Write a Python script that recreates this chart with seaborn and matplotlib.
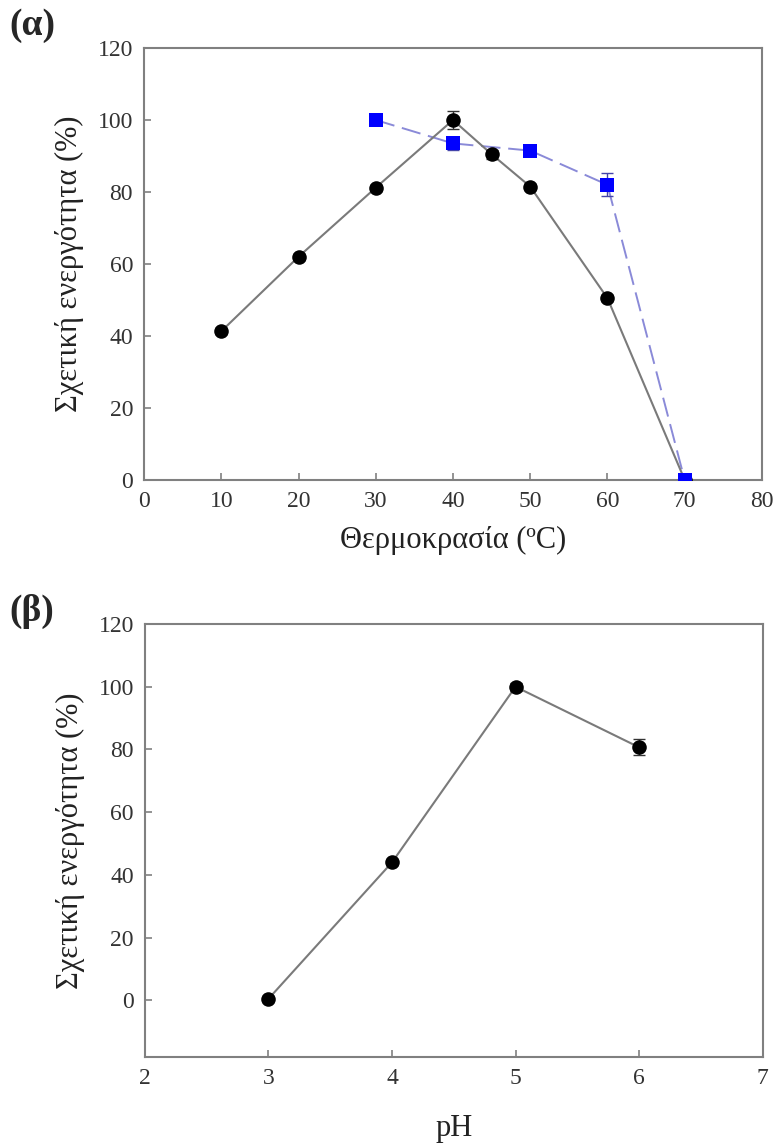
import matplotlib
matplotlib.use("Agg")
import matplotlib.pyplot as plt
import seaborn as sns
import numpy as np
import pandas as pd

sns.set_theme(style="white")
plt.rcParams['font.family'] = ['Liberation Serif', 'DejaVu Serif']
plt.rcParams['mathtext.fontset'] = 'stix'

# Panel (α): temperature
temp_act = [10, 20, 30, 40, 45, 50, 60, 70]
act_black = [41.3, 62.0, 81.2, 100.0, 90.5, 81.5, 50.5, 0.0]
err_black = [0.8, 0.8, 0.8, 2.5, 1.2, 0.8, 0.8, 0.5]

temp_stab = [30, 40, 50, 60, 70]
act_blue = [100.0, 93.5, 91.5, 82.0, 0.0]
err_blue = [0.8, 1.8, 0.8, 3.2, 0.5]

# Panel (β): pH
ph_vals = [3, 4, 5, 6]
act_ph = [0.5, 44.0, 100.0, 80.7]
err_ph = [0.5, 0.8, 1.2, 2.5]

xticks_a = [0, 10, 20, 30, 40, 50, 60, 70, 80]
yticks = [0, 20, 40, 60, 80, 100, 120]
xticks_b = [2, 3, 4, 5, 6, 7]

ylabel = "Σχετική ενεργότητα (%)"
xlabel_a = "Θερμοκρασία (ºC)"
xlabel_b = "pH"

fig = plt.figure(figsize=(7.75, 11.45), dpi=100)
ax1 = fig.add_axes([0.186, 0.581, 0.797, 0.377])
ax2 = fig.add_axes([0.187, 0.077, 0.797, 0.378])

spine_col = "#808080"
line_col = "#7a7a7a"
blue_line = "#8a8ad8"

def style(ax):
    for s in ax.spines.values():
        s.set_color(spine_col)
        s.set_linewidth(1.5)
    ax.tick_params(axis='both', direction='in', length=5, width=1.2,
                   color=spine_col, labelsize=17, labelcolor="#333333",
                   left=True, bottom=True, pad=8)
    ax.grid(False)

df_a = pd.DataFrame({"x": temp_act, "y": act_black})
df_s = pd.DataFrame({"x": temp_stab, "y": act_blue})
df_p = pd.DataFrame({"x": ph_vals, "y": act_ph})

# Panel α
sns.lineplot(data=df_s, x="x", y="y", ax=ax1, color=blue_line, lw=1.4,
             dashes=False, linestyle=(0, (10, 4)), zorder=2)
sns.lineplot(data=df_a, x="x", y="y", ax=ax1, color=line_col, lw=1.5, zorder=3)
ax1.errorbar(temp_act, act_black, yerr=err_black, fmt='none', ecolor='#333333',
             elinewidth=1, capsize=4, zorder=4)
ax1.errorbar(temp_stab, act_blue, yerr=err_blue, fmt='none', ecolor='#4444aa',
             elinewidth=1, capsize=4, zorder=4)
sns.scatterplot(data=df_a, x="x", y="y", ax=ax1, color="black", s=110,
                marker="o", edgecolor="black", linewidth=0, zorder=5)
sns.scatterplot(data=df_s, x="x", y="y", ax=ax1, color="#0000ff", s=100,
                marker="s", edgecolor="#0000ff", linewidth=0, zorder=6)
ax1.set_xlim(0, 80)
ax1.set_ylim(0, 120)
ax1.set_xticks(xticks_a)
ax1.set_yticks(yticks)
ax1.set_xlabel(xlabel_a, fontsize=22, labelpad=10, color="#222222")
ax1.set_ylabel(ylabel, fontsize=22, labelpad=10, color="#222222")
style(ax1)

# Panel β
sns.lineplot(data=df_p, x="x", y="y", ax=ax2, color=line_col, lw=1.5, zorder=3)
ax2.errorbar(ph_vals, act_ph, yerr=err_ph, fmt='none', ecolor='#333333',
             elinewidth=1, capsize=4, zorder=4)
sns.scatterplot(data=df_p, x="x", y="y", ax=ax2, color="black", s=110,
                marker="o", edgecolor="black", linewidth=0, zorder=5)
ax2.set_xlim(2, 7)
ax2.set_ylim(-18, 120)
ax2.set_xticks(xticks_b)
ax2.set_yticks(yticks)
ax2.set_xlabel(xlabel_b, fontsize=22, labelpad=18, color="#222222")
ax2.set_ylabel(ylabel, fontsize=22, labelpad=10, color="#222222")
style(ax2)

fig.text(0.012, 0.978, "(α)", fontsize=27, fontweight='bold', va='center', ha='left')
fig.text(0.012, 0.466, "(β)", fontsize=27, fontweight='bold', va='center', ha='left')

fig.savefig("out.png", dpi=100)
